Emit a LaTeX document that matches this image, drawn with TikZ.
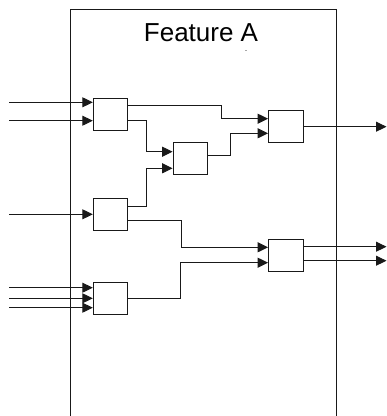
\documentclass[tikz,border=0pt]{standalone}
\usepackage{fontspec}
\setmainfont{Liberation Sans}
\usetikzlibrary{arrows.meta}
\begin{document}
\begin{tikzpicture}[x=1pt,y=-1pt,
  blk/.style={draw=black!90,line width=1pt,minimum width=34.4pt,minimum height=31.8pt,inner sep=0pt,fill=white},
  wire/.style={draw=black!90,line width=1pt},
  arr/.style={wire,-{Triangle[length=10.5pt,width=10pt]}}]
\useasboundingbox (0,0) rectangle (387,416);
% frame
\draw[wire] (70,417) -- (70,9.3) -- (336.7,9.3) -- (336.7,417);
\node[anchor=base,font=\fontsize{26}{30}\selectfont] (title) at (201,41.7) {Feature A};
\node[font=\fontsize{6}{6}\selectfont,inner sep=0pt] (mark) at (246,51.8) {-};
% blocks
\node[blk] (b1) at (110.5,114.2) {};
\node[blk] (b2) at (190.3,158.2) {};
\node[blk] (b3) at (285.8,126.8) {};
\node[blk] (b4) at (110.5,214.5) {};
\node[blk] (b5) at (285.8,255.5) {};
\node[blk] (b6) at (110.5,298.2) {};
% free ends
\coordinate (i1) at (9,102.3);
\coordinate (i2) at (9,120.7);
\coordinate (i3) at (9,214.3);
\coordinate (i4) at (9,287.7);
\coordinate (i5) at (9,298.3);
\coordinate (i6) at (9,307.7);
\coordinate (o1) at (386.5,126.7);
\coordinate (o2) at (386.5,246.7);
\coordinate (o3) at (386.5,260.7);
% inputs
\draw[arr] (i1) -- (b1.west |- i1);
\draw[arr] (i2) -- (b1.west |- i2);
\draw[arr] (i3) -- (b4.west |- i3);
\draw[arr] (i4) -- (b6.west |- i4);
\draw[arr] (i5) -- (b6.west |- i5);
\draw[arr] (i6) -- (b6.west |- i6);
% internal
\draw[arr] (b1.east |- 0,105.7) -| (221.7,118.7) -- (b3.west |- 0,118.7);
\draw[arr] (b1.east |- 0,120.7) -| (146,151.7) -- (b2.west |- 0,151.7);
\draw[arr] (b4.east |- 0,206.7) -| (146,168.3) -- (b2.west |- 0,168.3);
\draw[arr] (b2.east |- 0,155) -| (230,133.3) -- (b3.west |- 0,133.3);
\draw[arr] (b4.east |- 0,220.7) -| (181.7,247.3) -- (b5.west |- 0,247.3);
\draw[arr] (b6.east |- 0,298.3) -| (180,262.7) -- (b5.west |- 0,262.7);
% outputs
\draw[arr] (b3.east |- o1) -- (o1);
\draw[arr] (b5.east |- o2) -- (o2);
\draw[arr] (b5.east |- o3) -- (o3);
\end{tikzpicture}
\end{document}
